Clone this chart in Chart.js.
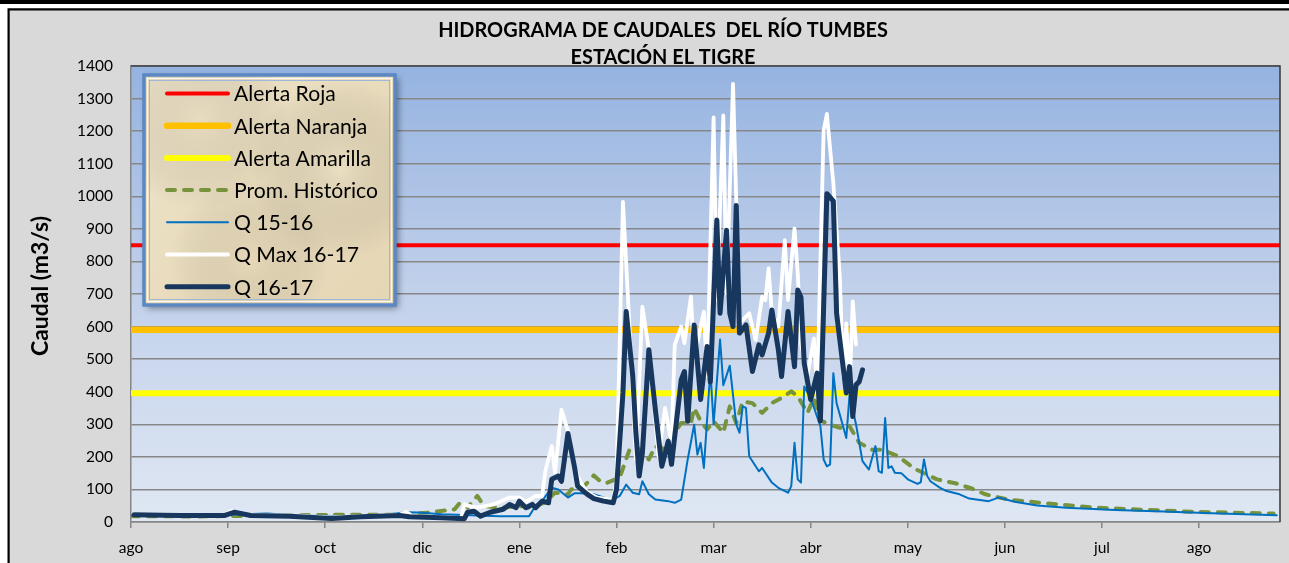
<!DOCTYPE html>
<html><head><meta charset="utf-8">
<script src="https://cdn.jsdelivr.net/npm/chart.js@4.4.1/dist/chart.umd.min.js"></script>
<style>html,body{margin:0;padding:0;background:#fff;overflow:hidden}</style>
</head><body>
<canvas id="c" width="1289" height="563"></canvas>
<script>
// ---------- text ----------
const titleLines = ['HIDROGRAMA DE CAUDALES  DEL RÍO TUMBES', 'ESTACIÓN EL TIGRE'];
const yAxisTitle = 'Caudal (m3/s)';
const monthLabels = ['ago','sep','oct','dic','ene','feb','mar','abr','may','jun','jul','ago'];
const monthTickDays = [0,30,60,90,120,150,180,210,240,270,300,330];
const seriesNames = ['Alerta Roja','Alerta Naranja','Alerta Amarilla','Prom. Histórico','Q 15-16','Q Max 16-17','Q 16-17'];

// ---------- data (day index from 1 Aug, caudal m3/s) ----------
const axisDays = [0, 355];
const alertLevels = [850, 590, 395];

const promDays = [0,21,43,62,83,92,100,102,104,107,109,114,121,123,128,131,135,136,140,143,145,147,151,154,156,160,162,164,167,170,173,174,176,178,180,183,185,187,189,192,195,198,201,204,206,209,211,213,216,219,222,225,229,232,237,242,249,255,260,264,271,281,298,314,329,353];
const promQ    = [18,17,20,22,22,29,39,64,44,80,49,44,49,44,60,90,85,100,110,143,125,120,136,222,233,192,233,222,260,304,304,350,310,284,309,274,355,304,370,365,335,365,381,401,386,335,381,312,299,289,294,243,222,222,202,164,131,118,102,85,69,59,44,37,31,26];

const q1516Days = [0,21,42,52,68,77,85,89,96,107,114,123,124,125,127,130,132,135,137,139,143,146,149,151,153,155,157,158,160,162,166,168,170,172,174,175,176,177,179,180,182,183,185,187,188,189,190,191,194,195,198,200,203,204,205,206,207,208,210,213,214,215,216,217,218,220,221,222,224,226,228,230,231,232,233,234,235,236,238,240,243,244,245,246,247,250,252,256,259,265,268,273,280,289,304,319,334,354];
const q1516Q    = [20,19,26,20,18,20,30,29,24,20,18,18,34,49,65,105,100,75,88,88,85,75,69,80,115,90,85,125,85,69,64,59,69,192,299,207,243,166,467,300,560,420,480,300,274,355,350,202,156,166,121,105,90,110,243,131,121,416,380,294,192,171,177,457,365,294,258,390,300,187,161,233,156,151,319,166,171,151,150,131,117,122,192,141,125,105,95,85,72,64,75,62,51,44,37,32,27,21];

const qMaxDays = [1,15,29,31,37,49,62,71,83,85,87,96,102,103,104,107,112,117,120,122,125,127,128,130,131,133,135,137,139,141,144,149,150,152,154,156,158,160,163,165,167,168,170,171,173,174,176,177,178,180,181,183,184,186,187,188,191,193,195,196,197,198,200,202,203,205,206,207,209,211,212,214,215,217,219,220,221,222,223,224];
const qMaxQ    = [24,22,22,34,22,20,14,18,22,31,18,15,12,55,50,44,54,75,75,62,80,80,156,233,150,345,280,165,120,90,75,69,125,983,600,192,661,529,202,350,243,544,600,549,692,498,600,646,447,1242,681,1248,702,1345,987,610,641,559,692,681,779,641,600,865,681,901,763,549,450,564,396,1202,1253,1040,753,447,610,396,677,545];

const q1617Days = [1,15,29,32,37,49,62,71,83,86,96,103,104,106,108,111,115,117,119,120,122,124,125,127,129,130,132,133,135,137,138,141,143,146,149,150,152,153,155,156,157,158,160,162,164,166,167,170,171,172,174,176,178,179,181,182,184,185,186,187,188,190,192,194,195,197,198,200,201,203,205,206,207,208,210,212,213,215,217,218,221,222,223,224,225,226];
const q1617Q    = [22,20,20,30,20,18,11,16,20,16,13,10,30,33,18,30,39,54,44,64,44,54,44,64,59,131,141,125,272,170,110,85,72,64,59,100,397,646,450,274,141,212,529,345,171,248,177,437,462,309,605,376,539,430,927,641,896,641,600,972,580,605,462,544,513,580,651,529,447,646,477,712,690,488,376,457,310,1008,985,641,396,477,324,421,431,467];

// ---------- helpers ----------
const pts = (days, vals) => days.map((d, i) => ({x: d, y: vals[i]}));
const flat = (level) => axisDays.map(d => ({x: d, y: level}));
const FONT = 'Lato';
function fitSize(text, weight, target) {
  const c = document.createElement('canvas').getContext('2d');
  c.font = weight + ' 100px ' + FONT;
  return 100 * target / c.measureText(text).width;
}
const titleSize = fitSize(titleLines[0], 'bold', 450);
const legendSize = fitSize('Prom. Histórico', 'normal', 144);
const yTitleSize = fitSize(yAxisTitle, 'bold', 140);
const tickSize = fitSize('1400', 'normal', 36);

// ---------- plugins ----------
const backdrop = {
  id: 'backdrop',
  beforeDraw(chart) {
    const ctx = chart.ctx, W = chart.width, H = chart.height, a = chart.chartArea;
    ctx.save();
    ctx.fillStyle = '#ffffff'; ctx.fillRect(0, 0, W, H);
    ctx.fillStyle = '#000000'; ctx.fillRect(0, 0, W, 4);
    ctx.fillStyle = '#d9d9d9'; ctx.fillRect(9, 10, W - 9, H - 10);
    ctx.strokeStyle = '#000'; ctx.lineWidth = 2.2;
    ctx.beginPath(); ctx.moveTo(8.6, H); ctx.lineTo(8.6, 9.3); ctx.lineTo(W, 9.3); ctx.stroke();
    const g = ctx.createLinearGradient(0, a.top, 0, a.bottom);
    g.addColorStop(0, '#95b3e0'); g.addColorStop(0.5, '#c2d1eb'); g.addColorStop(1, '#dfe7f3');
    ctx.fillStyle = g; ctx.fillRect(a.left, a.top, a.right - a.left, a.bottom - a.top);
    ctx.restore();
  }
};

const overlay = {
  id: 'overlay',
  afterDraw(chart) {
    const ctx = chart.ctx, a = chart.chartArea;
    ctx.save();
    // plot border (top / right)
    ctx.strokeStyle = '#404040'; ctx.lineWidth = 1.6;
    ctx.beginPath(); ctx.moveTo(a.left, a.top); ctx.lineTo(a.right, a.top); ctx.lineTo(a.right, a.bottom); ctx.stroke();

    // titles
    ctx.fillStyle = '#000'; ctx.textAlign = 'center'; ctx.textBaseline = 'middle';
    ctx.font = 'bold ' + titleSize.toFixed(2) + 'px ' + FONT;
    ctx.fillText(titleLines[0], 663, 31);
    ctx.fillText(titleLines[1], 663, 58);

    // y axis title
    ctx.save();
    ctx.translate(41, 286); ctx.rotate(-Math.PI / 2);
    ctx.font = 'bold ' + yTitleSize.toFixed(2) + 'px ' + FONT;
    ctx.fillText(yAxisTitle, 0, 0);
    ctx.restore();

    // legend box
    const bx = 144, by = 75, bw = 251, bh = 230;
    ctx.save();
    ctx.shadowColor = 'rgba(0,0,0,0.45)'; ctx.shadowBlur = 7; ctx.shadowOffsetX = 3; ctx.shadowOffsetY = 3;
    const pg = ctx.createLinearGradient(bx, by, bx + bw, by + bh);
    pg.addColorStop(0, '#eee4cb'); pg.addColorStop(0.5, '#e9dcbd'); pg.addColorStop(1, '#e5d6b5');
    ctx.fillStyle = pg; ctx.fillRect(bx, by, bw, bh);
    ctx.restore();
    // faint mottling
    const blobs = [[200,120,90,'rgba(222,206,172,0.22)'],[340,170,90,'rgba(244,236,216,0.25)'],[250,260,80,'rgba(222,206,172,0.2)']];
    ctx.save(); ctx.beginPath(); ctx.rect(bx, by, bw, bh); ctx.clip();
    blobs.forEach(([x, y, r, c]) => { const rg = ctx.createRadialGradient(x, y, 0, x, y, r); rg.addColorStop(0, c); rg.addColorStop(1, 'rgba(0,0,0,0)'); ctx.fillStyle = rg; ctx.fillRect(x - r, y - r, 2 * r, 2 * r); });
    ctx.restore();
    ctx.strokeStyle = '#5b87c2'; ctx.lineWidth = 3.5;
    ctx.strokeRect(bx, by, bw, bh);
    ctx.strokeStyle = 'rgba(255,255,255,0.8)'; ctx.lineWidth = 1;
    ctx.strokeRect(bx + 3.5, by + 3.5, bw - 7, bh - 7);
    ctx.strokeStyle = '#9fb8da'; ctx.lineWidth = 1;
    ctx.strokeRect(bx + 5.5, by + 5.5, bw - 11, bh - 11);

    ctx.textAlign = 'left'; ctx.textBaseline = 'middle';
    ctx.font = legendSize.toFixed(2) + 'px ' + FONT;
    chart.data.datasets.forEach((ds, i) => {
      const y = 93.5 + i * 32.2;
      ctx.beginPath();
      ctx.strokeStyle = ds.borderColor; ctx.lineWidth = ds.borderWidth; ctx.lineCap = 'round';
      ctx.setLineDash(ds.borderDash || []);
      ctx.moveTo(167, y); ctx.lineTo(228, y); ctx.stroke();
      ctx.setLineDash([]);
      ctx.fillStyle = '#000';
      ctx.fillText(ds.label, 234, y + 1);
    });
    ctx.restore();
  }
};

// ---------- chart ----------
const common = {pointRadius: 0, pointHoverRadius: 0, tension: 0, fill: false, borderCapStyle: 'round', borderJoinStyle: 'round'};
new Chart(document.getElementById('c'), {
  type: 'line',
  data: {
    datasets: [
      {...common, label: seriesNames[0], data: flat(alertLevels[0]), borderColor: '#ff0000', borderWidth: 4, order: 7},
      {...common, label: seriesNames[1], data: flat(alertLevels[1]), borderColor: '#ffc000', borderWidth: 6.5, order: 6},
      {...common, label: seriesNames[2], data: flat(alertLevels[2]), borderColor: '#ffff00', borderWidth: 6, order: 5},
      {...common, label: seriesNames[3], data: pts(promDays, promQ), borderColor: '#77933c', borderWidth: 4, borderDash: [8, 9], order: 4},
      {...common, label: seriesNames[4], data: pts(q1516Days, q1516Q), borderColor: '#0070c0', borderWidth: 2, order: 3},
      {...common, label: seriesNames[5], data: pts(qMaxDays, qMaxQ), borderColor: '#ffffff', borderWidth: 3.8, order: 2},
      {...common, label: seriesNames[6], data: pts(q1617Days, q1617Q), borderColor: '#17375e', borderWidth: 5, order: 1}
    ]
  },
  options: {
    responsive: false, animation: false, devicePixelRatio: 1,
    layout: {padding: {left: 8, right: 9, top: 66, bottom: 0}},
    plugins: {legend: {display: false}, title: {display: false}, tooltip: {enabled: false}},
    events: [],
    scales: {
      x: {
        type: 'linear', min: axisDays[0], max: axisDays[1],
        afterBuildTicks(s) { s.ticks = monthTickDays.map(v => ({value: v})); },
        afterFit(s) { s.height = 41; },
        ticks: {autoSkip: false, maxRotation: 0, padding: 11, color: '#000', font: {family: FONT, size: tickSize},
                callback: (v, i) => monthLabels[i]},
        grid: {drawOnChartArea: false, drawTicks: true, tickLength: 6, color: '#868686', lineWidth: 1.5},
        border: {color: '#868686', width: 1.5}
      },
      y: {
        min: 0, max: 1400,
        afterFit(s) { s.width = 123; },
        ticks: {stepSize: 100, padding: 18, color: '#000', font: {family: FONT, size: tickSize},
                callback: v => String(v)},
        grid: {color: '#878787', lineWidth: 1.5, drawTicks: false},
        border: {color: '#868686', width: 1.5}
      }
    }
  },
  plugins: [backdrop, overlay]
});
</script>
</body></html>
